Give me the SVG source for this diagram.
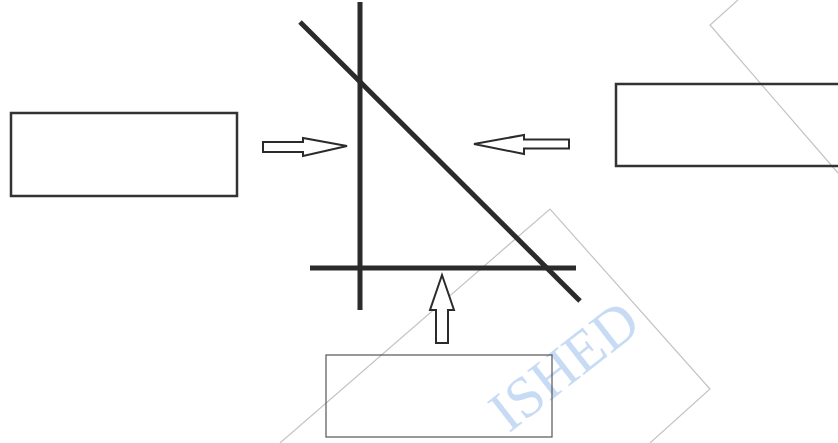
<svg xmlns="http://www.w3.org/2000/svg" width="838" height="443" viewBox="0 0 838 443">
  <style>
    .box { fill: none; stroke: #333333; stroke-width: 2.5; }
    .box-thin { fill: none; stroke: #555555; stroke-width: 1.2; }
    .axis { stroke: #2b2b2b; stroke-width: 5; fill: none; }
    .arrow { fill: #ffffff; stroke: #2b2b2b; stroke-width: 2; stroke-linejoin: miter; }
    .wm-line { fill: none; stroke: #c4c4c4; stroke-width: 1.2; }
    .wm-text { font-family: "Liberation Serif", "Times New Roman", serif; font-size: 58px; fill: #b4cff2; fill-opacity: 0.75; }
  </style>
  <rect width="838" height="443" fill="#ffffff"/>

  <g id="watermark">
    <polyline class="wm-line" points="738,0 710,25 838,173"/>
    <polyline class="wm-line" points="280,443 550,209 710,389 650,443"/>
    <text class="wm-text" transform="translate(576,381) rotate(-38)" text-anchor="middle">ISHED</text>
  </g>

  <g id="node-left">
    <rect class="box" x="11" y="113" width="226" height="83"/>
  </g>
  <g id="node-right">
    <rect class="box" x="616" y="84" width="240" height="82"/>
  </g>
  <g id="node-bottom">
    <rect class="box-thin" x="326" y="355" width="226" height="82"/>
  </g>

  <g id="lines">
    <line class="axis" x1="360" y1="2" x2="360" y2="310"/>
    <line class="axis" x1="310" y1="268" x2="576" y2="268"/>
    <line class="axis" x1="300" y1="22" x2="580" y2="301"/>
  </g>

  <g id="connectors">
    <polygon class="arrow" points="263,142 303,142 303,138 347,146 303,156 303,152 263,152"/>
    <polygon class="arrow" points="569,139.5 524,139.5 524,135 474,144 524,154 524,148.5 569,148.5"/>
    <polygon class="arrow" points="436,343 436,310 430,310 442,275 454,310 448,310 448,343"/>
  </g>
</svg>
